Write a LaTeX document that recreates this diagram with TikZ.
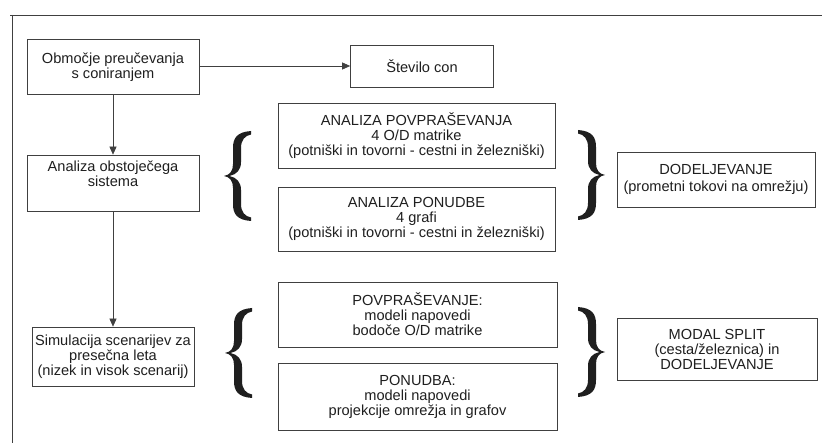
\documentclass[tikz,border=0pt]{standalone}
\usepackage{fontspec}
\setmainfont{Liberation Sans}
\usetikzlibrary{arrows.meta}

\definecolor{ink}{gray}{0.12}
\definecolor{rule}{gray}{0.25}

\tikzset{
  every node/.style={text=ink},
  box/.style={draw=rule, line width=0.7pt, align=center, inner sep=0pt,
    font=\fontsize{14.6pt}{15pt}\selectfont},
  flow/.style={draw=rule, line width=0.7pt, -{Triangle[length=8pt,width=7pt]}},
  frameline/.style={draw=rule, line width=0.8pt},
  % thick curly bracket, cusp at the origin, opening to the right
  curly/.pic={
    \fill[ink] (27,-45) .. controls (13,-44) and (9,-38) .. (9,-28)
      -- (9,-12) .. controls (9,-5) and (6,-1) .. (0,0)
      .. controls (6,1) and (9,5) .. (9,12)
      -- (9,28) .. controls (9,38) and (13,44) .. (27,45)
      -- (27,41.5) .. controls (21,40.5) and (17,36) .. (17,28)
      -- (17,14) .. controls (17,6) and (12.5,1.5) .. (5.5,0)
      .. controls (12.5,-1.5) and (17,-6) .. (17,-14)
      -- (17,-28) .. controls (17,-36) and (21,-40.5) .. (27,-41.5) -- cycle;
  }
}

\begin{document}
\begin{tikzpicture}[x=1pt,y=-1pt]
\useasboundingbox (0,0) rectangle (822,443);
\fill[white] (0,0) rectangle (822,443);

% outer frame (top and left edges)
\draw[frameline] (10,15) -- (822,15);
\draw[frameline] (12,15) -- (12,443);

% left column
\node[box, minimum width=172pt, minimum height=55pt] (zone) at (113,67)
  {Območje preučevanja\\s coniranjem};
\node[box, minimum width=143pt, minimum height=42pt] (count) at (422,66)
  {Število con};
\node[box, minimum width=172pt, minimum height=56pt] (exist) at (113,183)
  {Analiza obstoječega\\sistema\\[4pt]};
\node[box, minimum width=162pt, minimum height=59pt] (sim) at (113,356.5)
  {Simulacija scenarijev za\\presečna leta\\(nizek in visok scenarij)};

% analysis of the existing system
\node[box, minimum width=277pt, minimum height=65pt] (dem) at (416.5,135.5)
  {ANALIZA POVPRAŠEVANJA\\4 O/D matrike\\(potniški in tovorni - cestni in železniški)};
\node[box, minimum width=277pt, minimum height=64pt] (sup) at (416.5,219)
  {ANALIZA PONUDBE\\4 grafi\\(potniški in tovorni - cestni in železniški)};
\node[box, minimum width=198pt, minimum height=55pt,
      font=\fontsize{14.6pt}{17pt}\selectfont] (assign) at (716,179.5)
  {DODELJEVANJE\\(prometni tokovi na omrežju)};

% scenario simulation
\node[box, minimum width=279pt, minimum height=65pt] (fdem) at (417.5,314.5)
  {POVPRAŠEVANJE:\\modeli napovedi\\bodoče O/D matrike};
\node[box, minimum width=279pt, minimum height=67pt] (fsup) at (417.5,396.5)
  {PONUDBA:\\modeli napovedi\\projekcije omrežja in grafov};
\node[box, minimum width=200pt, minimum height=62pt] (modal) at (717,349)
  {MODAL SPLIT\\(cesta/železnica) in\\DODELJEVANJE};

% connectors
\draw[flow] (zone.east |- count.west) -- (count.west);
\draw[flow] (zone.south) -- (exist.north);
\draw[flow] (exist.south) -- (sim.north);

% brackets
\pic at (224,176) {curly};
\pic[xscale=-1] at (605,175) {curly};
\pic at (225,353) {curly};
\pic[xscale=-1] at (605,352) {curly};
\end{tikzpicture}
\end{document}
